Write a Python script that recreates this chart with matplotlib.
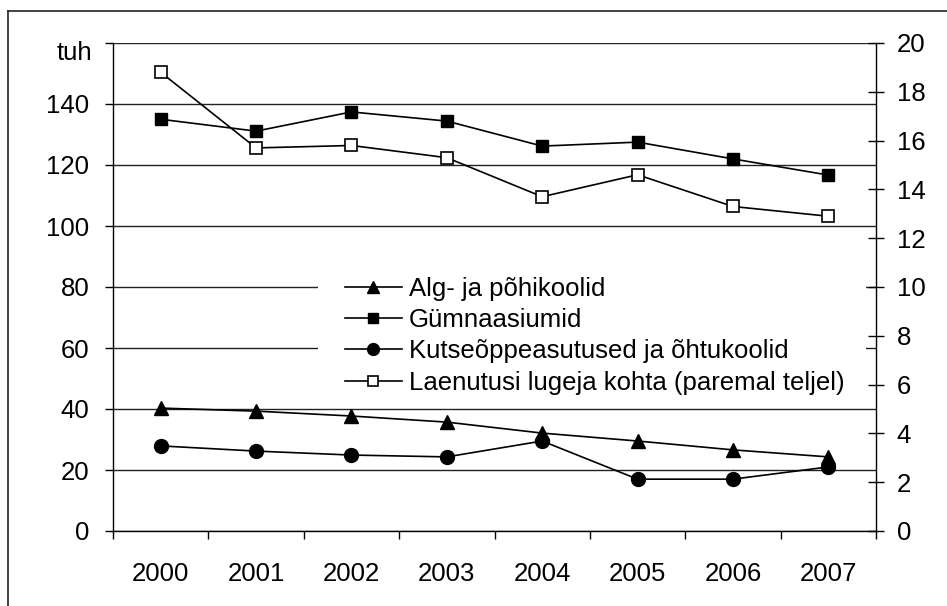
import matplotlib
matplotlib.use("Agg")
import matplotlib.pyplot as plt
from matplotlib.lines import Line2D
from matplotlib.patches import Rectangle
import numpy as np

plt.rcParams['font.family'] = ['Liberation Sans', 'DejaVu Sans']

years = ['2000', '2001', '2002', '2003', '2004', '2005', '2006', '2007']
alg = [40.3, 39.3, 37.7, 35.7, 32.1, 29.5, 26.6, 24.3]
gymn = [135.0, 131.1, 137.4, 134.4, 126.2, 127.5, 122.0, 116.7]
kutse = [27.9, 26.2, 24.9, 24.3, 29.5, 17.0, 17.0, 21.0]
laen = [18.8, 15.7, 15.8, 15.3, 13.7, 14.6, 13.3, 12.9]

labels = ['Alg- ja põhikoolid', 'Gümnaasiumid',
          'Kutseõppeasutused ja õhtukoolid', 'Laenutusi lugeja kohta (paremal teljel)']

W, H = 947, 606
fig = plt.figure(figsize=(W / 100, H / 100), dpi=100)
ax = fig.add_axes([113 / W, 1 - 531 / H, (876 - 113) / W, (531 - 43) / H])
ax2 = ax.twinx()

x = np.arange(len(years))
fs = 18.5
lc = 'black'

l1, = ax.plot(x, alg, color=lc, lw=1.2, marker='^', ms=10, zorder=3)
l2, = ax.plot(x, gymn, color=lc, lw=1.2, marker='s', ms=9, zorder=3)
l3, = ax.plot(x, kutse, color=lc, lw=1.2, marker='o', ms=10, zorder=3)
l4, = ax2.plot(x, laen, color=lc, lw=1.2, marker='s', ms=9, mfc='white', mec='black', mew=1.2, zorder=3)

ax.set_xlim(-0.5, len(years) - 0.5)
ax.set_ylim(0, 160)
ax2.set_ylim(0, 20)

# gridlines
ax.set_yticks(np.arange(0, 161, 20))
ax.set_yticklabels([str(v) for v in range(0, 141, 20)] + [''])
ax.yaxis.grid(True, color='#222222', lw=1)
ax.set_axisbelow(True)
ax.tick_params(axis='y', direction='out', length=6, width=1, labelsize=fs, pad=11)
ax.annotate('tuh', xy=(0, 160), xycoords=('axes fraction', 'data'),
            xytext=(-21, 2), textcoords='offset pixels', ha='right', va='top', fontsize=fs)

ax2.set_yticks(np.arange(0, 21, 2))
ax2.tick_params(axis='y', direction='inout', length=12, width=1, labelsize=fs, pad=9)

ax.set_xticks(np.arange(-0.5, len(years), 1))
ax.set_xticklabels([])
ax.set_xticks(x, minor=True)
ax.set_xticklabels(years, minor=True)
ax.tick_params(axis='x', which='major', direction='out', length=6, width=1)
ax.tick_params(axis='x', which='minor', length=0, labelsize=fs, pad=22)

for a in (ax, ax2):
    a.spines['top'].set_visible(False)
    for s in ('left', 'right', 'bottom'):
        a.spines[s].set_linewidth(1)
        a.spines[s].set_color('black')
ax.spines['right'].set_visible(False)
ax2.spines['left'].set_visible(False)
ax2.spines['bottom'].set_visible(False)

# white box behind legend (hides gridlines)
ax.add_patch(Rectangle((318 / W, 1 - 400 / H), (866 - 318) / W, (400 - 266) / H,
                       transform=fig.transFigure, facecolor='white', edgecolor='none',
                       zorder=1, clip_on=False))
fig.legend([l1, l2, l3, l4], labels, loc='upper left', bbox_to_anchor=(327 / W, 1 - 259 / H),
           frameon=False, fontsize=fs, handlelength=2.2, handletextpad=0.3,
           labelspacing=0.28, borderpad=0.2, markerscale=0.85)

# outer frame
fig.add_artist(Line2D([8 / W, 8 / W], [0, 1 - 11 / H], transform=fig.transFigure, color='#222222', lw=1.2))
fig.add_artist(Line2D([8 / W, 1], [1 - 11 / H, 1 - 11 / H], transform=fig.transFigure, color='#222222', lw=1.2))

fig.savefig('out.png', dpi=100)
